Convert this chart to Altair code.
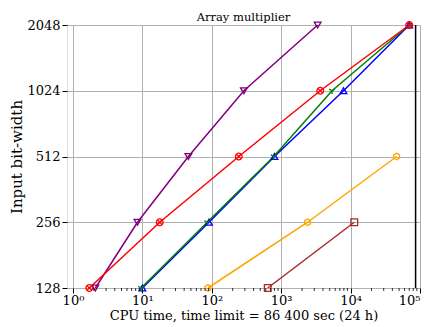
import altair as alt
import pandas as pd

# Input bit-widths
widths = [128, 256, 512, 1024, 2048]

# CPU time (s) per series
s_blue = [10.0, 91, 800, 7900, 70000]
s_green = [9.6, 86, 780, 5400, 70000]
s_orange = [88, 2400, 46000]
s_brown = [640, 11300]
s_purple = [2.1, 8.5, 46, 290, 3350]
s_red = [1.72, 17.8, 245, 3650, 70000]

series = [
    ("blue", s_blue),
    ("green", s_green),
    ("orange", s_orange),
    ("brown", s_brown),
    ("purple", s_purple),
    ("red", s_red),
]
colors = ["#0000ff", "#008000", "#ffa500", "#a52a2a", "#800080", "#ff0000"]
shapes = [
    "triangle-up",
    "M0,0L0,1M0,0L-0.866,-0.5M0,0L0.866,-0.5",
    "M0,-1L0.866,-0.5L0.866,0.5L0,1L-0.866,0.5L-0.866,-0.5Z",
    "square",
    "triangle-down",
    "M1,0A1,1 0 1,1 -1,0A1,1 0 1,1 1,0ZM-0.7,-0.7L0.7,0.7M-0.7,0.7L0.7,-0.7",
]

rows = []
for name, vals in series:
    for i, v in enumerate(vals):
        rows.append({"series": name, "time": v, "width": widths[i], "order": i})
df = pd.DataFrame(rows)

time_limit = 86400
x_major = [1, 10, 100, 1000, 10000, 100000]
x_minor = [m * 10 ** k for k in range(0, 5) for m in range(2, 10)]
title_text = ["Array multiplier"]

FONT = "DejaVu Serif"
W, H = 353, 263

xscale = alt.Scale(type="log", domain=[0.82, 100000], nice=False)
yscale = alt.Scale(type="log", base=2, domain=[128, 2048], nice=False)
names = [s[0] for s in series]
cscale = alt.Scale(domain=names, range=colors)
sscale = alt.Scale(domain=names, range=shapes)

xaxis = alt.Axis(
    values=x_major,
    labelExpr="'10' + ['⁰','¹','²','³','⁴','⁵'][round(log(datum.value)/LN10)]",
    title="CPU time, time limit = 86 400 sec (24 h)",
    grid=True, gridColor="#b0b0b0", gridWidth=1,
    tickColor="black", tickSize=5, domain=False,
    labelFont=FONT, labelFontSize=13, labelColor="black", labelPadding=1,
    titleFont=FONT, titleFontSize=13, titleFontWeight="normal", titleColor="black",
    titlePadding=2,
)
yaxis = alt.Axis(
    values=widths, format="d",
    title="Input bit-width",
    grid=True, gridColor="#b0b0b0", gridWidth=1,
    tickColor="black", tickSize=5, domain=False,
    labelFont=FONT, labelFontSize=13, labelColor="black", labelPadding=2,
    titleFont=FONT, titleFontSize=15, titleFontWeight="normal", titleColor="black",
    titlePadding=2,
)

base = alt.Chart(df)
lines = base.mark_line(strokeWidth=1.5).encode(
    x=alt.X("time:Q", scale=xscale, axis=xaxis),
    y=alt.Y("width:Q", scale=yscale, axis=yaxis),
    color=alt.Color("series:N", scale=cscale, legend=None),
    detail="series:N",
    order="order:Q",
)
points = base.mark_point(filled=False, size=45, strokeWidth=1.3, opacity=1).encode(
    x=alt.X("time:Q", scale=xscale),
    y=alt.Y("width:Q", scale=yscale),
    color=alt.Color("series:N", scale=cscale, legend=None),
    shape=alt.Shape("series:N", scale=sscale, legend=None),
)
limit = alt.Chart(pd.DataFrame({"t": [time_limit]})).mark_rule(
    color="black", strokeWidth=1.5
).encode(x=alt.X("t:Q", scale=xscale))

minor = alt.Chart(pd.DataFrame({"m": x_minor})).mark_rule(
    color="black", strokeWidth=0.8
).encode(
    x=alt.X("m:Q", scale=xscale),
    y=alt.value(H),
    y2=alt.value(H + 3),
)

title = alt.Chart(pd.DataFrame({"t": title_text})).mark_text(
    font=FONT, fontSize=11.5, color="black", baseline="alphabetic", align="center"
).encode(text="t:N", x=alt.value(W / 2), y=alt.value(-4))

chart = (
    alt.layer(lines, limit, points, minor, title)
    .properties(
        width=W, height=H,
        autosize=alt.AutoSizeParams(type="none"),
        padding={"left": 59, "top": 17, "right": 4, "bottom": 40},
    )
    .configure_view(stroke="black", strokeWidth=1.2)
    .configure(background="white", font=FONT)
)

chart.save("out.html", embed_options={"renderer": "svg", "actions": False})
